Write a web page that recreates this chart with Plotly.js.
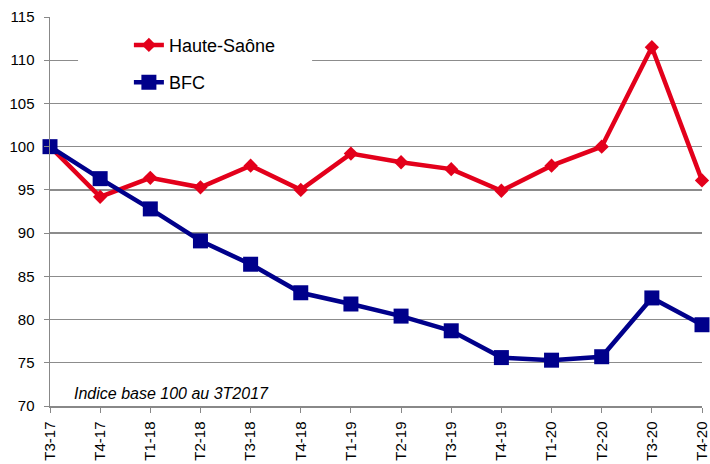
<!DOCTYPE html>
<html><head><meta charset="utf-8">
<script src="https://cdn.plot.ly/plotly-3.0.1.min.js"></script>
<style>body{margin:0;background:#fff}#c{width:710px;height:464px}</style>
</head><body><div id="c"></div>
<script>
const categories = ["T3-17","T4-17","T1-18","T2-18","T3-18","T4-18","T1-19","T2-19","T3-19","T4-19","T1-20","T2-20","T3-20","T4-20"];
const hauteSaone = [100, 94.2, 96.4, 95.3, 97.8, 95.0, 99.2, 98.2, 97.4, 94.9, 97.8, 100.0, 111.5, 96.1];
const bfc = [100, 96.3, 92.8, 89.1, 86.4, 83.1, 81.8, 80.4, 78.7, 75.6, 75.3, 75.7, 82.5, 79.4];
const yTicks = [70, 75, 80, 85, 90, 95, 100, 105, 110, 115];

const traces = [
  {x: categories, y: hauteSaone, name: "Haute-Saône", type: "scatter", mode: "lines+markers",
   line: {color: "#e3001b", width: 4.5}, marker: {symbol: "diamond", size: 11, color: "#e3001b"},
   cliponaxis: false, legendgroup: "a"},
  {x: categories, y: bfc, name: "BFC", type: "scatter", mode: "lines+markers",
   line: {color: "#00008b", width: 4.5}, marker: {symbol: "square", size: 15, color: "#00008b"},
   cliponaxis: false, legendgroup: "b"}
];

const layout = {
  width: 710, height: 464,
  margin: {l: 50, r: 8, t: 17, b: 58},
  paper_bgcolor: "#fff", plot_bgcolor: "#fff",
  font: {family: "Liberation Sans, Arial, sans-serif", size: 15, color: "#000"},
  showlegend: true,
  legend: {x: 0.121, y: 0.975, xanchor: "left", yanchor: "top", bgcolor: "rgba(0,0,0,0)",
           font: {size: 18}, tracegroupgap: 11},
  shapes: [{type: "rect", xref: "paper", yref: "paper", x0: 0.043, x1: 0.402, y0: 0.812, y1: 0.967,
            fillcolor: "#fff", line: {width: 0}, layer: "above"}],
  xaxis: {type: "category", range: [0, 13], tickangle: -90, showgrid: false,
          showline: true, linecolor: "#888", linewidth: 1.5, ticks: "outside", ticklen: 5,
          tickcolor: "#888", tickfont: {size: 15}, ticklabelstandoff: 3, zeroline: false, fixedrange: true},
  yaxis: {range: [70, 115], tickvals: yTicks, showgrid: true, gridcolor: "#8c8c8c", gridwidth: 1.3,
          showline: true, linecolor: "#888", linewidth: 1.5, ticks: "outside", ticklen: 5,
          tickcolor: "#888", tickfont: {size: 15}, ticklabelstandoff: 6, zeroline: false, fixedrange: true},
  annotations: [{text: "<i>Indice base 100 au 3T2017</i>", xref: "paper", yref: "paper",
                 x: 0.034, y: 0.005, xanchor: "left", yanchor: "bottom", showarrow: false,
                 font: {size: 16, color: "#000"}}]
};
Plotly.newPlot("c", traces, layout, {displayModeBar: false, staticPlot: true});
</script></body></html>
